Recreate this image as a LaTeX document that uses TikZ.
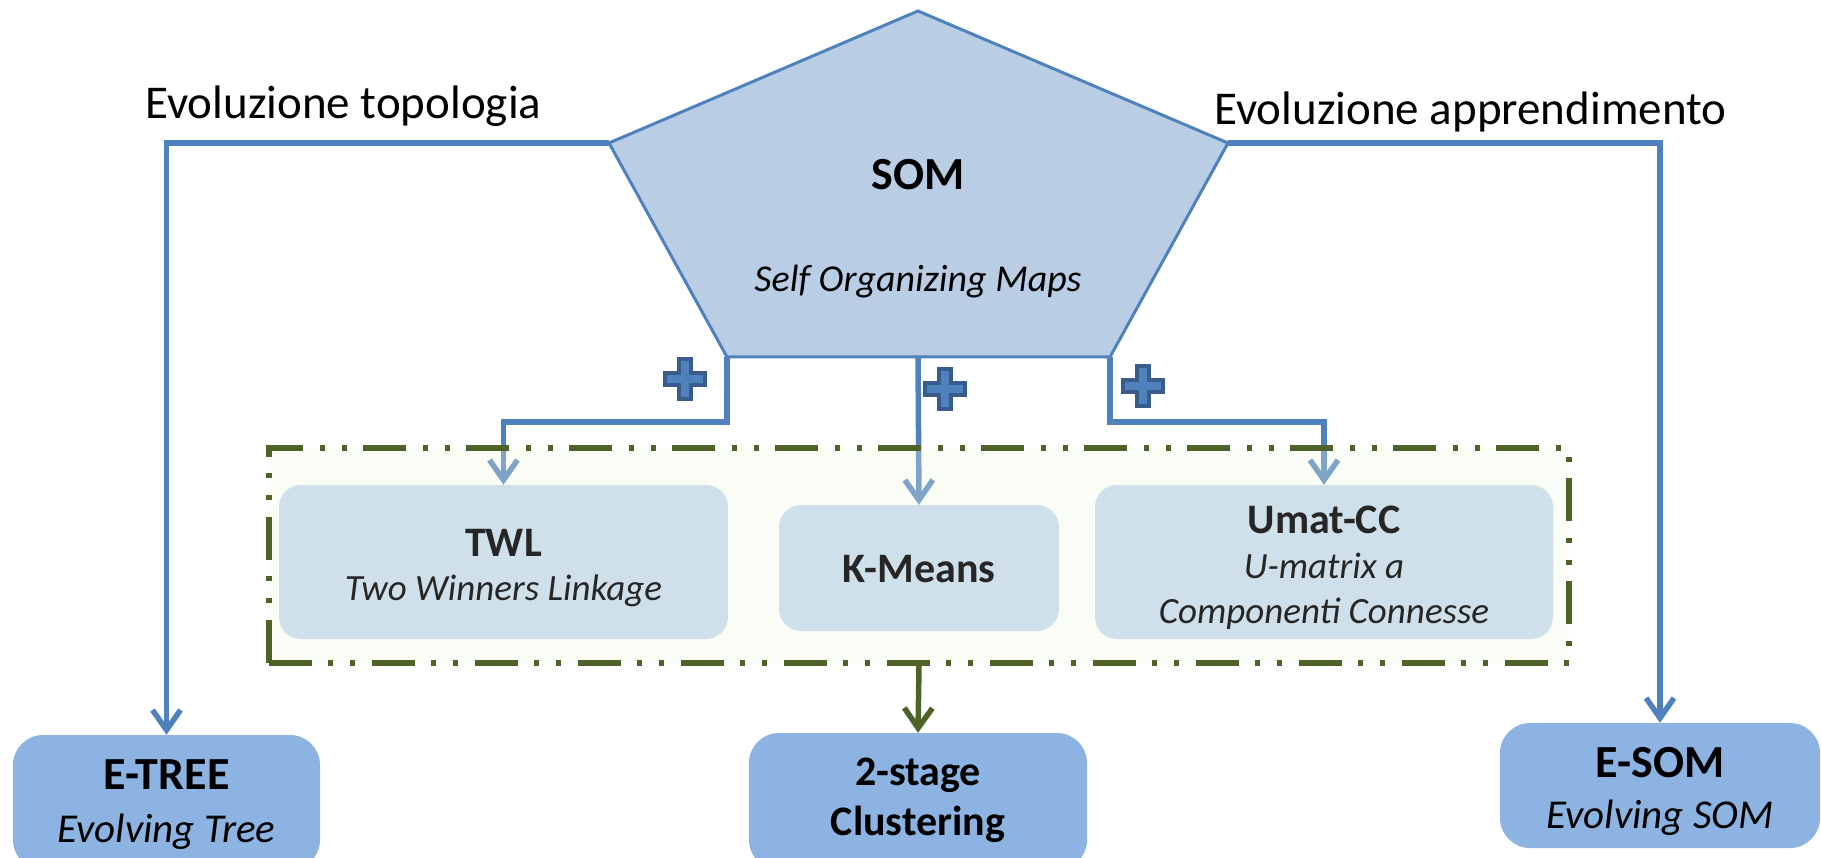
\documentclass[tikz,border=0pt]{standalone}
\usepackage{fontspec}
\setmainfont{Carlito}
\usetikzlibrary{arrows.meta}

\definecolor{somfill}{HTML}{B9CDE5}
\definecolor{linkblue}{HTML}{4F81BD}
\definecolor{plusdark}{HTML}{385D8A}
\definecolor{outerfill}{HTML}{8DB3E2}
\definecolor{innerfill}{HTML}{C3D7EF}
\definecolor{framegreen}{HTML}{4F6228}
\definecolor{framefill}{HTML}{EEF5E0}
\definecolor{innertext}{HTML}{262626}

\tikzset{
  plusmark/.pic={
    \draw[fill=linkblue, draw=plusdark, line width=4pt]
      (-6,-20) -- (6,-20) -- (6,-6) -- (20,-6) -- (20,6) -- (6,6) -- (6,20)
      -- (-6,20) -- (-6,6) -- (-20,6) -- (-20,-6) -- (-6,-6) -- cycle;
  }
}

\begin{document}
\begin{tikzpicture}[x=1pt,y=-1pt,
  link/.style={draw=linkblue, line width=5.5pt},
  barbtip/.style={-{Straight Barb[length=20pt,width=28pt]}},
  outerbox/.style={fill=outerfill, rounded corners=30pt, inner sep=0pt},
  innerbox/.style={fill=innerfill, rounded corners=22pt, inner sep=0pt},
  txt/.style={inner sep=0pt, anchor=base},
  bigbold/.style={txt, font=\fontsize{46}{55}\selectfont\bfseries},
  midbold/.style={txt, font=\fontsize{42}{50}\selectfont\bfseries},
  subit/.style={txt, font=\fontsize{41}{49}\selectfont\itshape},
  smallit/.style={txt, font=\fontsize{37}{44}\selectfont\itshape},
]
\useasboundingbox (0,0) rectangle (1821,858);
\clip (0,0) rectangle (1821,858);

% SOM pentagon
\coordinate (pTop) at (918,11);
\coordinate (pL) at (609,143);
\coordinate (pR) at (1228,143);
\coordinate (pBL) at (727,357);
\coordinate (pBR) at (1110,357);
\coordinate (pBM) at (918,357);
\filldraw[fill=somfill, draw=linkblue, line width=3pt, line join=miter]
  (pTop) -- (pR) -- (pBR) -- (pBL) -- (pL) -- cycle;
\node[bigbold] (somtitle) at (918,190) {SOM};
\node[smallit, font=\fontsize{38}{45}\selectfont\itshape] (somsub) at (918,292) {Self Organizing Maps};

% side labels
\node[txt, anchor=base west, font=\fontsize{47}{56}\selectfont] (labtopo) at (145,119) {Evoluzione topologia};
\node[txt, anchor=base west, font=\fontsize{47}{56}\selectfont] (labappr) at (1214,125) {Evoluzione apprendimento};

% result boxes at the bottom
\node[outerbox, minimum width=307pt, minimum height=135pt] (etree) at (166.5,802.5) {};
\node[outerbox, minimum width=338pt, minimum height=137pt] (twostage) at (918,801.5) {};
\node[outerbox, minimum width=320pt, minimum height=125pt] (esom) at (1660,785.5) {};
\node[bigbold] (etreet) at (166.5,789) {E-TREE};
\node[subit] (etrees) at (166.5,842) {Evolving Tree};
\node[midbold] (twostaget) at (918,785) {2-stage};
\node[midbold] (twostages) at (918,835) {Clustering};
\node[bigbold] (esomt) at (1660,777) {E-SOM};
\node[subit] (esoms) at (1660,828) {Evolving SOM};

% clustering methods
\node[innerbox, minimum width=449pt, minimum height=154pt] (twl) at (503.5,562) {};
\node[innerbox, minimum width=280pt, minimum height=126pt] (kmeans) at (919,568) {};
\node[innerbox, minimum width=458pt, minimum height=154pt] (umat) at (1324,562) {};

% connectors from SOM
\draw[link, barbtip] (pL) -| (etree.north);
\draw[link, barbtip] (pR) -| (esom.north);
\coordinate (kneeL) at (727,422);
\coordinate (kneeR) at (1110,422);
\draw[link, barbtip] (pBL) -- (kneeL) -| (twl.north);
\draw[link, barbtip] (pBM) -- (kmeans.north);
\draw[link, barbtip] (pBR) -- (kneeR) -| (umat.north);

\pic at (685,379) {plusmark};
\pic at (945,389) {plusmark};
\pic at (1143,386) {plusmark};

% group frame, laid over its contents
\node[draw=framegreen, line width=5.5pt,
      dash pattern=on 43pt off 16pt on 5pt off 17pt on 5pt off 17pt,
      fill=framefill, fill opacity=0.3, minimum width=1300pt, minimum height=215pt,
      inner sep=0pt] (frame) at (919,555.5) {};

\node[midbold, text=innertext] (twlt) at (503.5,556) {TWL};
\node[smallit, text=innertext] (twls) at (503.5,600) {Two Winners Linkage};
\node[midbold, text=innertext] (kmeanst) at (919,582) {K-Means};
\node[midbold, text=innertext] (umatt) at (1324,533) {Umat-CC};
\node[smallit, text=innertext] (umats1) at (1324,578) {U-matrix a};
\node[smallit, text=innertext] (umats2) at (1324,623) {Componenti Connesse};

\draw[draw=framegreen, line width=5.5pt, barbtip] (frame.south) -- (twostage.north);
\end{tikzpicture}
\end{document}
